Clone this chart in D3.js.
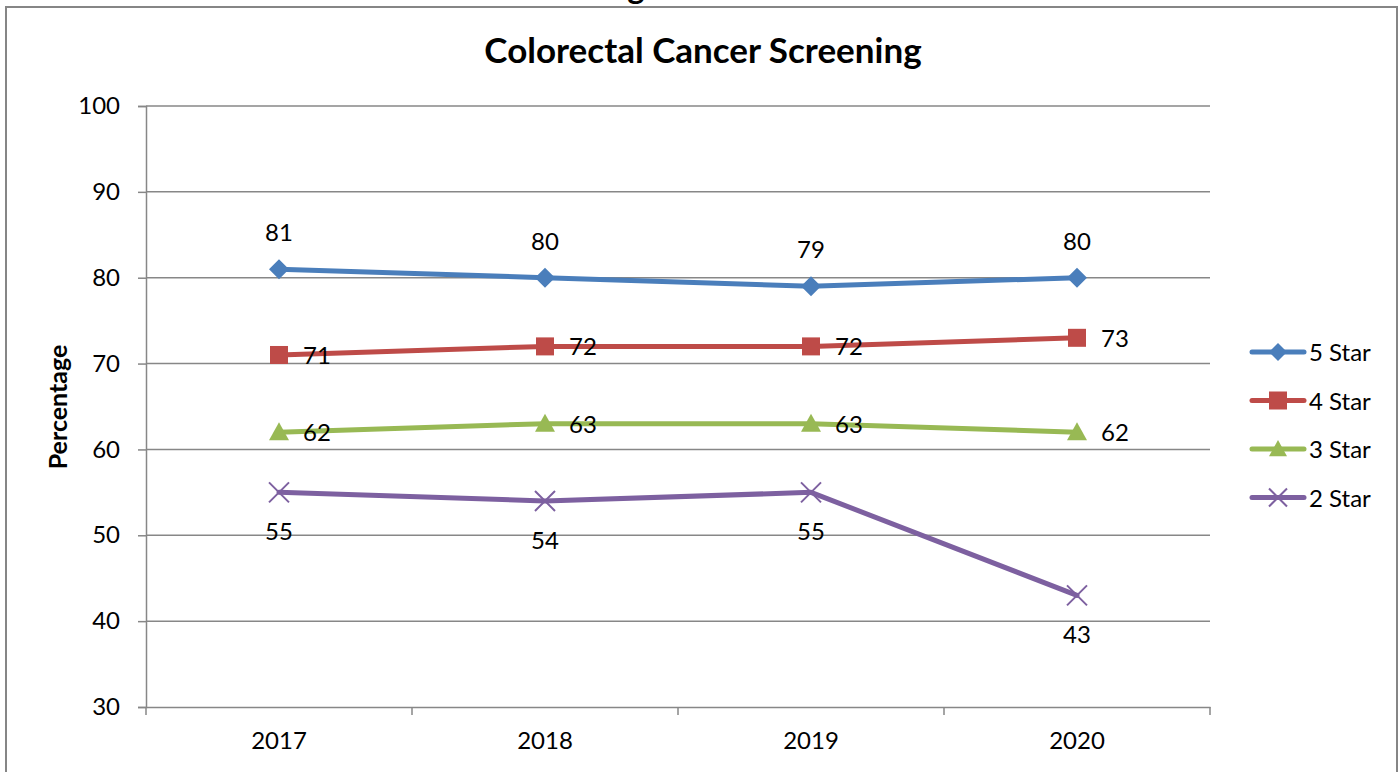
<!DOCTYPE html>
<html>
<head>
<meta charset="utf-8">
<script src="https://cdn.jsdelivr.net/npm/d3@7"></script>
<style>
  body { margin: 0; background: #fff; }
  text { font-family: Lato, "Open Sans", "Liberation Sans", sans-serif; }
</style>
</head>
<body>
<div id="chart"></div>
<script>
// data
var years = ["2017", "2018", "2019", "2020"];
var star5 = [81, 80, 79, 80];
var star4 = [71, 72, 72, 73];
var star3 = [62, 63, 63, 62];
var star2 = [55, 54, 55, 43];
var yTicks = [30, 40, 50, 60, 70, 80, 90, 100];

var series = [
  { name: "5 Star", values: star5, color: "#4A7EBB", marker: "diamond", label: "above" },
  { name: "4 Star", values: star4, color: "#BE4B48", marker: "square", label: "right" },
  { name: "3 Star", values: star3, color: "#98B954", marker: "triangle", label: "right" },
  { name: "2 Star", values: star2, color: "#7D60A0", marker: "cross", label: "below" }
];

var width = 1400, height = 772;
var plot = { left: 146, right: 1210, top: 106, bottom: 707 };
const fontSize = "24px";

var svg = d3.select("#chart").append("svg")
  .attr("width", width)
  .attr("height", height);

// cut-off heading from the page above
svg.append("text")
  .attr("x", 20).attr("y", -1)
  .style("font-weight", "bold")
  .style("font-size", "33px")
  .text("Measure C01: Colorectal Cancer Screening");

// chart frame
svg.append("rect")
  .attr("x", 6).attr("y", 7)
  .attr("width", 1391).attr("height", 780)
  .attr("fill", "#fff")
  .attr("stroke", "#868686")
  .attr("stroke-width", 2);

var xScale = d3.scaleBand()
  .domain(years)
  .range([plot.left, plot.right]);

var yScale = d3.scaleLinear()
  .domain([30, 100])
  .range([plot.bottom, plot.top]);

// gridlines
svg.append("g").selectAll("line")
  .data(yTicks.filter(function(d){ return d > 30; }))
  .enter().append("line")
  .attr("x1", plot.left).attr("x2", plot.right)
  .attr("y1", function(d){ return yScale(d); })
  .attr("y2", function(d){ return yScale(d); })
  .attr("stroke", "#878787")
  .attr("stroke-width", 1.5);

// axes
var yAxis = d3.axisLeft(yScale).tickValues(yTicks).tickSize(8).tickPadding(18);
var yAxisG = svg.append("g")
  .attr("transform", "translate(" + plot.left + ",0)")
  .call(yAxis);

var xAxis = d3.axisBottom(xScale).tickSize(0).tickPadding(25);
var xAxisG = svg.append("g")
  .attr("transform", "translate(0," + plot.bottom + ")")
  .call(xAxis);

// x tick marks at the band boundaries
svg.append("g").selectAll("line")
  .data(d3.range(years.length + 1))
  .enter().append("line")
  .attr("x1", function(i){ return plot.left + i * xScale.step(); })
  .attr("x2", function(i){ return plot.left + i * xScale.step(); })
  .attr("y1", plot.bottom).attr("y2", plot.bottom + 8)
  .attr("stroke", "#878787")
  .attr("stroke-width", 1.5);

[yAxisG, xAxisG].forEach(function(g){
  g.select(".domain").attr("stroke", "#878787").attr("stroke-width", 1.5);
  g.selectAll(".tick line").attr("stroke", "#878787").attr("stroke-width", 1.5);
  g.selectAll("text")
    .style("font-size", fontSize)
    .style("font-family", "Lato, 'Open Sans', 'Liberation Sans', sans-serif")
    .attr("fill", "#000");
});

// title
svg.append("text")
  .attr("x", 703).attr("y", 63)
  .attr("text-anchor", "middle")
  .style("font-weight", "bold")
  .style("font-size", "35px")
  .text("Colorectal Cancer Screening");

// y label
svg.append("text")
  .attr("transform", "translate(67,407) rotate(-90)")
  .attr("text-anchor", "middle")
  .style("font-weight", "bold")
  .style("font-size", "25px")
  .text("Percentage");

var cx = function(i){ return xScale(years[i]) + xScale.bandwidth() / 2; };

var line = d3.line()
  .x(function(d, i){ return cx(i); })
  .y(function(d){ return yScale(d); });

var drawMarker = function(g, type, color, x, y, s) {
  if (type == "diamond") {
    g.append("path")
      .attr("d", "M" + x + "," + (y - s) + "L" + (x + s) + "," + y + "L" + x + "," + (y + s) + "L" + (x - s) + "," + y + "Z")
      .attr("fill", color);
  } else if (type == "square") {
    g.append("rect")
      .attr("x", x - s).attr("y", y - s)
      .attr("width", 2 * s).attr("height", 2 * s)
      .attr("fill", color);
  } else if (type == "triangle") {
    g.append("path")
      .attr("d", "M" + x + "," + (y - s) + "L" + (x + s) + "," + (y + s * 0.8) + "L" + (x - s) + "," + (y + s * 0.8) + "Z")
      .attr("fill", color);
  } else {
    g.append("path")
      .attr("d", "M" + (x - s) + "," + (y - s) + "L" + (x + s) + "," + (y + s) + "M" + (x + s) + "," + (y - s) + "L" + (x - s) + "," + (y + s))
      .attr("stroke", color).attr("stroke-width", 2).attr("fill", "none");
  }
};

series.forEach(function(s){
  var g = svg.append("g");
  g.append("path")
    .datum(s.values)
    .attr("d", line)
    .attr("fill", "none")
    .attr("stroke", s.color)
    .attr("stroke-width", 5)
    .attr("stroke-linejoin", "round")
    .attr("stroke-linecap", "round");

  s.values.forEach(function(v, i){
    var size = s.marker == "square" ? 9 : 10;
    drawMarker(g, s.marker, s.color, cx(i), yScale(v), size);
  });

  g.selectAll(".lbl")
    .data(s.values)
    .enter().append("text")
    .attr("class", "lbl")
    .attr("x", function(d, i){ return s.label == "right" ? cx(i) + 24 : cx(i); })
    .attr("y", function(d){
      if (s.label == "above") return yScale(d) - 28;
      if (s.label == "below") return yScale(d) + 48;
      return yScale(d) + 9;
    })
    .attr("text-anchor", s.label == "right" ? "start" : "middle")
    .style("font-size", fontSize)
    .text(function(d){ return d; });
});

// legend
var legend = svg.append("g");
series.forEach(function(s, i){
  var y = 352 + i * 48.5;
  legend.append("line")
    .attr("x1", 1252).attr("x2", 1304)
    .attr("y1", y).attr("y2", y)
    .attr("stroke", s.color).attr("stroke-width", 5)
    .attr("stroke-linecap", "round");
  drawMarker(legend, s.marker, s.color, 1278, y, 9);
  legend.append("text")
    .attr("x", 1309).attr("y", y + 9)
    .style("font-size", fontSize)
    .text(s.name);
});
</script>
</body>
</html>
